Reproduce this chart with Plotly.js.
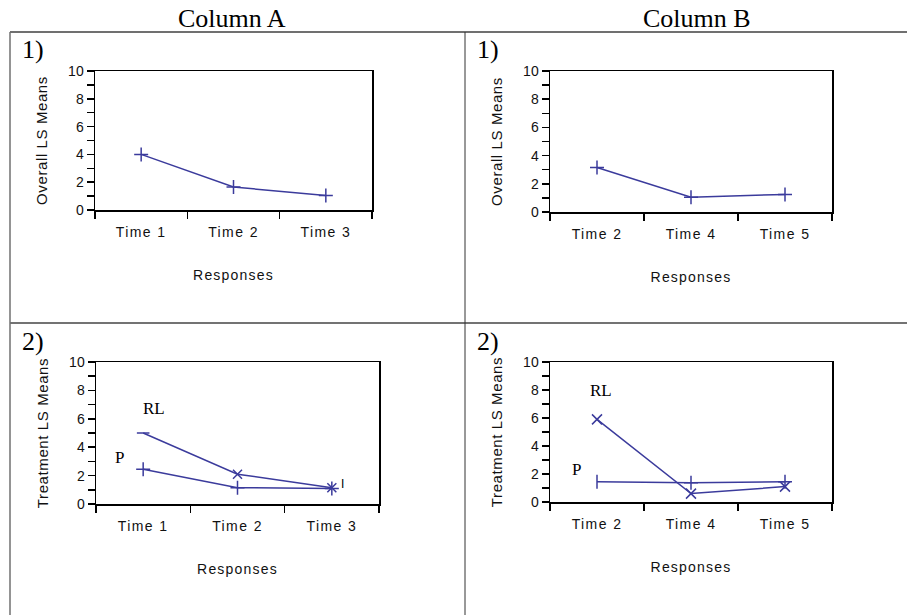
<!DOCTYPE html>
<html>
<head>
<meta charset="utf-8">
<script src="https://cdn.plot.ly/plotly-3.0.1.min.js"></script>
<style>
  html, body { margin: 0; padding: 0; background: #ffffff; }
  #chart { width: 907px; height: 615px; }
  .xtick text, .x2tick text, .x3tick text, .x4tick text { letter-spacing: 1.4px; }
  .xtitle, .x2title, .x3title, .x4title { letter-spacing: 1.2px; }
  .ytitle, .y2title, .y3title, .y4title { letter-spacing: 0.6px; }
</style>
</head>
<body>
<div id="chart"></div>
<script>
// ---------------- data ----------------
var colHeaders = ['Column A', 'Column B'];
var rowLabels = ['1)', '2)'];
var catsA = ['Time 1', 'Time 2', 'Time 3'];
var catsB = ['Time 2', 'Time 4', 'Time 5'];
var overallA = [4.0, 1.65, 1.05];
var overallB = [3.15, 1.05, 1.25];
var treatA_P = [2.45, 1.15, 1.1];
var treatA_RL = [5.0, 2.1, 1.15];
var treatB_P = [1.45, 1.38, 1.45];
var treatB_RL = [5.9, 0.6, 1.1];
var yTicks = [0, 2, 4, 6, 8, 10];
var seriesNames = ['P', 'RL'];
var extraLabel = 'I';
var xTitle = 'Responses';
var yTitleTop = 'Overall LS Means';
var yTitleBottom = 'Treatment LS Means';

// ---------------- helpers ----------------
var W = 907, H = 615;
function fx(px) { return px / W; }
function fy(py) { return 1 - py / H; }

var lineColor = '#3b3b9c';
var sans = 'Liberation Sans, Arial, sans-serif';
var serif = 'Liberation Serif, Times New Roman, serif';

function mk(symbols, size) {
  return { symbol: symbols, size: size, color: lineColor,
           line: { color: lineColor, width: 1.5 } };
}

var traces = [
  { x: catsA, y: overallA, xaxis: 'x', yaxis: 'y', type: 'scatter', mode: 'lines+markers',
    line: { color: lineColor, width: 1.5 }, marker: mk('cross-thin', 10), showlegend: false },
  { x: catsB, y: overallB, xaxis: 'x2', yaxis: 'y2', type: 'scatter', mode: 'lines+markers',
    line: { color: lineColor, width: 1.5 }, marker: mk('cross-thin', 10), showlegend: false },
  { x: catsA, y: treatA_P, name: seriesNames[0], xaxis: 'x3', yaxis: 'y3', type: 'scatter', mode: 'lines+markers',
    line: { color: lineColor, width: 1.5 }, marker: mk('cross-thin', 10), showlegend: false },
  { x: catsA, y: treatA_RL, name: seriesNames[1], xaxis: 'x3', yaxis: 'y3', type: 'scatter', mode: 'lines+markers',
    line: { color: lineColor, width: 1.5 }, marker: mk(['line-ew', 'x-thin', 'x-thin'], 9), showlegend: false },
  { x: catsB, y: treatB_P, name: seriesNames[0], xaxis: 'x4', yaxis: 'y4', type: 'scatter', mode: 'lines+markers',
    line: { color: lineColor, width: 1.5 }, marker: mk(['line-ns', 'cross-thin', 'cross-thin'], 10), showlegend: false },
  { x: catsB, y: treatB_RL, name: seriesNames[1], xaxis: 'x4', yaxis: 'y4', type: 'scatter', mode: 'lines+markers',
    line: { color: lineColor, width: 1.5 }, marker: mk('x-thin', 10), showlegend: false }
];

function xax(domain, cats, anchor) {
  return {
    domain: domain, anchor: anchor, type: 'category', range: [-0.5, 2.5],
    categoryorder: 'array', categoryarray: cats,
    showline: true, linecolor: '#000', linewidth: 1.5, mirror: true,
    ticks: 'outside', tickson: 'boundaries', ticklen: 7, tickwidth: 1.5, tickcolor: '#000',
    showgrid: false, zeroline: false,
    tickfont: { family: sans, size: 14, color: '#111' },
    ticklabelstandoff: 9,
    title: { text: xTitle, font: { family: sans, size: 14, color: '#111' }, standoff: 31 },
    fixedrange: true
  };
}
function yax(domain, title, anchor) {
  return {
    domain: domain, anchor: anchor, range: [0, 10], tickvals: yTicks,
    showline: true, linecolor: '#000', linewidth: 1.5, mirror: true,
    ticks: 'outside', ticklen: 7, tickwidth: 1.5, tickcolor: '#000',
    minor: { dtick: 1, ticks: 'outside', ticklen: 7, tickwidth: 1.5, tickcolor: '#000', showgrid: false },
    showgrid: false, zeroline: false,
    tickfont: { family: sans, size: 14, color: '#111' },
    title: { text: title, font: { family: sans, size: 15, color: '#111' }, standoff: 17 },
    fixedrange: true
  };
}

var layout = {
  width: W, height: H,
  margin: { l: 0, r: 0, t: 0, b: 0 },
  paper_bgcolor: '#ffffff', plot_bgcolor: '#ffffff',
  showlegend: false,
  xaxis: xax([fx(95), fx(372)], catsA, 'y'),
  yaxis: yax([fy(210), fy(71)], yTitleTop, 'x'),
  xaxis2: xax([fx(550), fx(832)], catsB, 'y2'),
  yaxis2: yax([fy(212), fy(71)], yTitleTop, 'x2'),
  xaxis3: xax([fx(96), fx(379)], catsA, 'y3'),
  yaxis3: yax([fy(504), fy(362)], yTitleBottom, 'x3'),
  xaxis4: xax([fx(550), fx(832)], catsB, 'y4'),
  yaxis4: yax([fy(502), fy(362)], yTitleBottom, 'x4'),
  shapes: [
    { type: 'line', xref: 'paper', yref: 'paper', x0: fx(10), x1: 1, y0: fy(32), y1: fy(32), line: { color: '#707070', width: 2 } },
    { type: 'line', xref: 'paper', yref: 'paper', x0: fx(10), x1: 1, y0: fy(323), y1: fy(323), line: { color: '#444', width: 1.5 } },
    { type: 'line', xref: 'paper', yref: 'paper', x0: fx(10), x1: fx(10), y0: fy(32), y1: 0, line: { color: '#707070', width: 1.5 } },
    { type: 'line', xref: 'paper', yref: 'paper', x0: fx(465), x1: fx(465), y0: fy(32), y1: 0, line: { color: '#333', width: 1 } }
  ],
  annotations: [
    { text: colHeaders[0], xref: 'paper', yref: 'paper', x: fx(232), y: fy(18), showarrow: false, xanchor: 'center', yanchor: 'middle', font: { family: serif, size: 26, color: '#000' } },
    { text: colHeaders[1], xref: 'paper', yref: 'paper', x: fx(697), y: fy(18), showarrow: false, xanchor: 'center', yanchor: 'middle', font: { family: serif, size: 26, color: '#000' } },
    { text: rowLabels[0], xref: 'paper', yref: 'paper', x: fx(33), y: fy(49), showarrow: false, xanchor: 'center', yanchor: 'middle', font: { family: serif, size: 26, color: '#000' } },
    { text: rowLabels[0], xref: 'paper', yref: 'paper', x: fx(488), y: fy(49), showarrow: false, xanchor: 'center', yanchor: 'middle', font: { family: serif, size: 26, color: '#000' } },
    { text: rowLabels[1], xref: 'paper', yref: 'paper', x: fx(33), y: fy(341), showarrow: false, xanchor: 'center', yanchor: 'middle', font: { family: serif, size: 26, color: '#000' } },
    { text: rowLabels[1], xref: 'paper', yref: 'paper', x: fx(488), y: fy(341), showarrow: false, xanchor: 'center', yanchor: 'middle', font: { family: serif, size: 26, color: '#000' } },
    { text: seriesNames[1], xref: 'paper', yref: 'paper', x: fx(154), y: fy(408), showarrow: false, xanchor: 'center', yanchor: 'middle', font: { family: serif, size: 17, color: '#000' } },
    { text: seriesNames[0], xref: 'paper', yref: 'paper', x: fx(119), y: fy(457), showarrow: false, xanchor: 'center', yanchor: 'middle', font: { family: serif, size: 17, color: '#000' } },
    { text: extraLabel, xref: 'paper', yref: 'paper', x: fx(342), y: fy(484), showarrow: false, xanchor: 'center', yanchor: 'middle', font: { family: sans, size: 12, color: '#000' } },
    { text: seriesNames[1], xref: 'paper', yref: 'paper', x: fx(601), y: fy(390), showarrow: false, xanchor: 'center', yanchor: 'middle', font: { family: serif, size: 17, color: '#000' } },
    { text: seriesNames[0], xref: 'paper', yref: 'paper', x: fx(576), y: fy(469), showarrow: false, xanchor: 'center', yanchor: 'middle', font: { family: serif, size: 17, color: '#000' } }
  ]
};

Plotly.newPlot('chart', traces, layout, { displayModeBar: false, staticPlot: true });
</script>
</body>
</html>
